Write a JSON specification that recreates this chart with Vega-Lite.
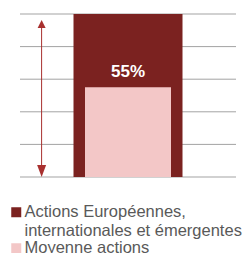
{
  "$schema": "https://vega.github.io/schema/vega-lite/v6.json",
  "width": 216,
  "height": 163,
  "autosize": {"type": "none"},
  "padding": {"left": 20, "top": 14, "right": 10, "bottom": 76},
  "background": "white",
  "config": {
    "view": {"stroke": null},
    "font": "Liberation Sans"
  },
  "datasets": {
    "grille": [
      {"niveau": 0}, {"niveau": 20}, {"niveau": 40}, {"niveau": 60}, {"niveau": 80}, {"niveau": 100}
    ],
    "barres": [
      {"groupe": "Portefeuille", "serie": "Actions Européennes, internationales et émergentes", "valeur": 100, "etiquette": ""},
      {"groupe": "Portefeuille", "serie": "Moyenne actions", "valeur": 55, "etiquette": "55%"}
    ],
    "fleche": [
      {"groupe": "Écart", "bas": 3.7, "haut": 93.9}
    ]
  },
  "layer": [
    {
      "data": {"name": "grille"},
      "mark": {"type": "rule", "color": "#a3a3a3", "strokeWidth": 1},
      "encoding": {
        "y": {"field": "niveau", "type": "quantitative", "scale": {"domain": [0, 100], "nice": false}, "axis": null}
      }
    },
    {
      "data": {"name": "barres"},
      "transform": [{"filter": "datum.valeur == 100"}],
      "mark": {"type": "bar", "size": 109},
      "encoding": {
        "x": {
          "field": "groupe",
          "type": "nominal",
          "scale": {"domain": ["Écart", "g1", "Portefeuille", "g2", "g3"], "paddingInner": 0, "paddingOuter": 0},
          "axis": null
        },
        "y": {"field": "valeur", "type": "quantitative", "axis": null},
        "color": {
          "field": "serie", "type": "nominal",
          "scale": {"domain": ["Actions Européennes, internationales et émergentes", "Moyenne actions"], "range": ["#7b2220", "#f3c7c7"]},
          "legend": {
            "orient": "none",
            "legendX": -12,
            "legendY": 190,
            "direction": "vertical",
            "title": null,
            "padding": 0,
            "symbolType": "square",
            "symbolSize": 100,
            "symbolStrokeWidth": 0,
            "labelFont": "Liberation Sans",
            "labelFontSize": 16.5,
            "labelColor": "#595959",
            "labelOffset": 0,
            "labelLimit": 300,
            "labelLineHeight": 17,
            "rowPadding": 0,
            "labelExpr": "datum.label == 'Moyenne actions' ? datum.label : ['Actions Européennes,', 'internationales et émergentes']"
          }
        }
      }
    },
    {
      "data": {"name": "barres"},
      "transform": [{"filter": "datum.valeur < 100"}],
      "mark": {"type": "bar", "size": 86},
      "encoding": {
        "x": {"field": "groupe", "type": "nominal", "axis": null},
        "y": {"field": "valeur", "type": "quantitative", "axis": null},
        "color": {"field": "serie", "type": "nominal"}
      }
    },
    {
      "data": {"name": "barres"},
      "transform": [{"filter": "datum.valeur < 100"}],
      "mark": {"type": "text", "color": "white", "fontSize": 17, "fontWeight": "bold", "font": "Liberation Sans", "baseline": "alphabetic", "dy": -10},
      "encoding": {
        "x": {"field": "groupe", "type": "nominal", "axis": null},
        "y": {"field": "valeur", "type": "quantitative", "axis": null},
        "text": {"field": "etiquette"}
      }
    },
    {
      "data": {"name": "fleche"},
      "mark": {"type": "rule", "color": "#a8302f", "strokeWidth": 1},
      "encoding": {
        "x": {"field": "groupe", "type": "nominal", "axis": null},
        "y": {"field": "bas", "type": "quantitative", "axis": null},
        "y2": {"field": "haut"}
      }
    },
    {
      "data": {"name": "fleche"},
      "mark": {"type": "point", "filled": true, "opacity": 1, "color": "#a8302f", "shape": "M0,-1L1,1L-1,1Z", "size": 64},
      "encoding": {
        "x": {"field": "groupe", "type": "nominal", "axis": null},
        "y": {"field": "haut", "type": "quantitative", "axis": null}
      }
    },
    {
      "data": {"name": "fleche"},
      "mark": {"type": "point", "filled": true, "opacity": 1, "color": "#a8302f", "shape": "M0,1L0.75,-1L-0.75,-1Z", "size": 144},
      "encoding": {
        "x": {"field": "groupe", "type": "nominal", "axis": null},
        "y": {"field": "bas", "type": "quantitative", "axis": null}
      }
    }
  ]
}
